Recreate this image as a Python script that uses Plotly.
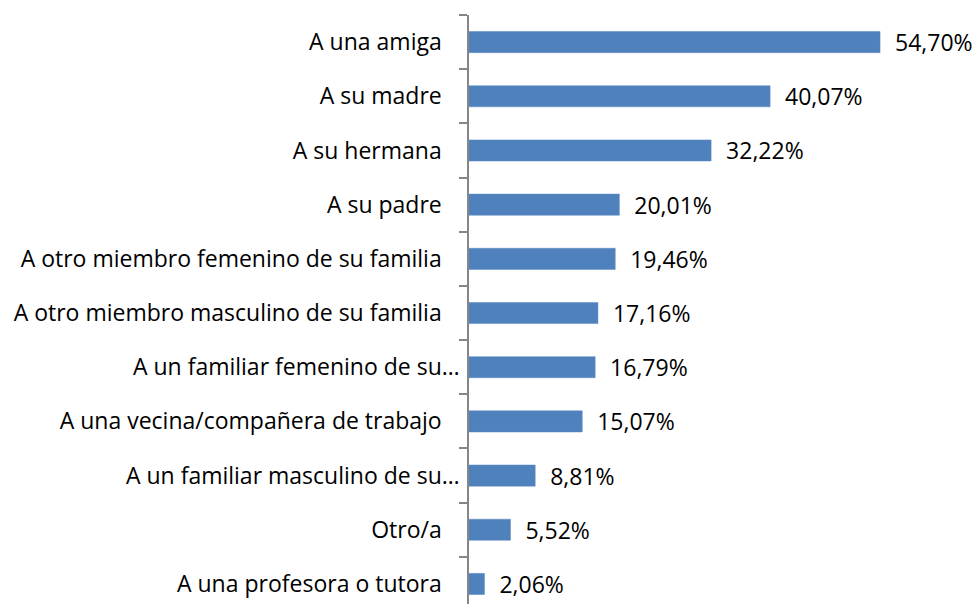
import plotly.graph_objects as go

# Categories listed bottom to top
categories = [
    "A una profesora o tutora",
    "Otro/a",
    "A un familiar masculino de su…",
    "A una vecina/compañera de trabajo",
    "A un familiar femenino de su…",
    "A otro miembro masculino de su familia",
    "A otro miembro femenino de su familia",
    "A su padre",
    "A su hermana",
    "A su madre",
    "A una amiga",
]
values = [2.06, 5.52, 8.81, 15.07, 16.79, 17.16, 19.46, 20.01, 32.22, 40.07, 54.70]
truncated = [False, False, True, False, True, False, False, False, False, False, False]

PAD = "\u00a0" * 3
tick_labels = [c if t else c + PAD for c, t in zip(categories, truncated)]
value_text = ["\u00a0\u00a0" + f"{v:.2f}".replace(".", ",") + "%" for v in values]

FONT = "'Open Sans', Calibri, Carlito, sans-serif"
FS = 23

fig = go.Figure(
    go.Bar(
        y=tick_labels,
        x=values,
        orientation="h",
        marker=dict(color="#4F81BD", line=dict(color="#5B8BC4", width=0.5)),
        text=value_text,
        textposition="outside",
        constraintext="none",
        textfont=dict(family=FONT, size=FS, color="#000000"),
        cliponaxis=False,
        hoverinfo="skip",
    )
)

fig.update_layout(
    width=977,
    height=604,
    margin=dict(l=469, r=0, t=15, b=0),
    paper_bgcolor="white",
    plot_bgcolor="white",
    bargap=0.61,
    showlegend=False,
    font=dict(family=FONT, size=FS, color="#000000"),
    xaxis=dict(
        range=[0, 67.6],
        showgrid=False,
        zeroline=False,
        showline=False,
        showticklabels=False,
        ticks="",
    ),
    yaxis=dict(
        type="category",
        categoryorder="array",
        categoryarray=tick_labels,
        range=[-0.37, 10.5],
        showgrid=False,
        zeroline=False,
        showline=True,
        linecolor="#868686",
        linewidth=1.5,
        ticks="outside",
        tickson="boundaries",
        ticklen=8,
        tickwidth=1.5,
        tickcolor="#868686",
        ticklabelstandoff=3,
        tickfont=dict(family=FONT, size=FS, color="#000000"),
    ),
)

fig.write_html(
    "out.html",
    config={"displayModeBar": False},
    post_script="document.body.style.margin='0';document.body.style.overflow='hidden';",
)
